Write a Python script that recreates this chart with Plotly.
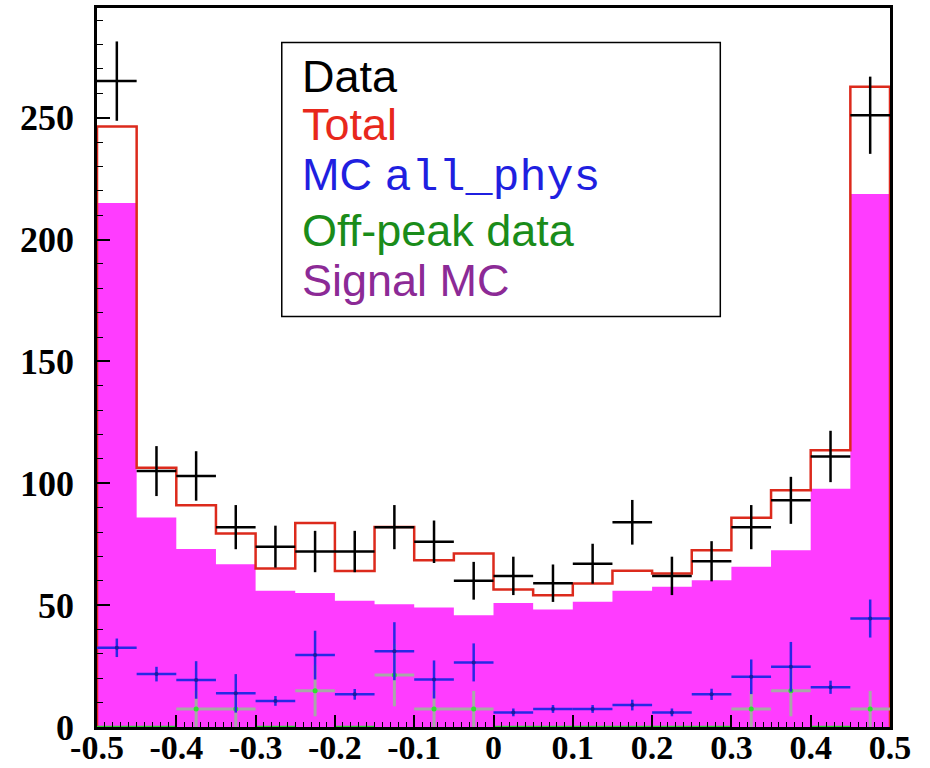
import plotly.graph_objects as go

# Bin layout (20 bins of width 0.05 between -0.5 and 0.5)
bin_centers = [-0.475, -0.425, -0.375, -0.325, -0.275, -0.225, -0.175, -0.125, -0.075, -0.025,
               0.025, 0.075, 0.125, 0.175, 0.225, 0.275, 0.325, 0.375, 0.425, 0.475]
bin_half_width = 0.025

# Observed data (counts, Poisson errors)
data_counts = [265, 105, 103, 82, 74, 72, 72, 82, 76, 60,
               62, 59, 67, 84, 62, 68, 82, 93, 111, 251]

# Total prediction
total_pred = [246.4, 106.4, 91.0, 79.4, 65.0, 83.7, 64.0, 82.1, 68.4, 71.2,
              56.4, 54.1, 58.9, 64.1, 63.0, 72.5, 85.9, 97.1, 113.5, 262.7]

# Signal MC (filled histogram)
signal_mc = [215.0, 86.0, 73.0, 66.8, 55.9, 55.0, 51.8, 50.4, 49.0, 45.9,
             50.9, 48.2, 51.4, 55.9, 57.5, 60.2, 65.7, 72.5, 97.8, 218.7]

# Generic MC background
mc_all_phys = [32.5, 21.7, 19.3, 13.8, 10.7, 29.5, 13.4, 31.1, 19.5, 26.5,
               6.0, 7.4, 7.4, 9.0, 6.0, 13.4, 20.6, 24.7, 16.3, 44.5]
mc_all_phys_err = [3.8, 3.0, 7.7, 7.9, 2.0, 10.0, 2.2, 11.9, 7.8, 7.8,
                   1.6, 1.6, 1.6, 2.2, 1.6, 2.3, 7.1, 10.2, 2.7, 7.8]

# Scaled off-peak data
offpeak = [0, 0, 7.4, 7.4, 0, 14.9, 0, 21.3, 7.4, 7.4,
           0, 0, 0, 0, 0, 0, 7.4, 14.9, 0, 7.4]
offpeak_err = [0, 0, 7.4, 7.4, 0, 10.5, 0, 12.8, 7.4, 7.4,
               0, 0, 0, 0, 0, 0, 7.4, 10.5, 0, 7.4]

x_tick_vals = [-0.5, -0.4, -0.3, -0.2, -0.1, 0.0, 0.1, 0.2, 0.3, 0.4, 0.5]
x_tick_text = ["-0.5", "-0.4", "-0.3", "-0.2", "-0.1", "0", "0.1", "0.2", "0.3", "0.4", "0.5"]
y_tick_vals = [0, 50, 100, 150, 200, 250]
y_tick_text = ["0", "50", "100", "150", "200", "250"]

legend_entries = [
    ("Data", "#000000"),
    ("Total", "#e8281c"),
    ("MC <span style='font-family:Liberation Mono, Courier New, monospace'>all_phys</span>", "#1f1fe0"),
    ("Off-peak data", "#1a8c1a"),
    ("Signal MC", "#8c2a96"),
]

# Bin edges for step outlines
edges = [c - bin_half_width for c in bin_centers] + [bin_centers[-1] + bin_half_width]


def closed_step(values):
    xs = [edges[0]] + edges + [edges[-1]]
    ys = [0] + list(values) + [values[-1], 0]
    return xs, ys


fig = go.Figure()

sx, sy = closed_step(signal_mc)
fig.add_trace(go.Scatter(x=sx, y=sy, mode="lines", line=dict(shape="hv", width=0, color="#ff3cff"),
                         fill="toself", fillcolor="#ff3cff", hoverinfo="skip"))

tx, ty = closed_step(total_pred)
fig.add_trace(go.Scatter(x=tx, y=ty, mode="lines", line=dict(shape="hv", width=2.5, color="#dc2a1c"),
                         hoverinfo="skip"))

fig.add_trace(go.Scatter(
    x=bin_centers, y=data_counts, mode="markers",
    marker=dict(size=1, color="black"),
    error_y=dict(type="data", array=[n ** 0.5 for n in data_counts], color="black", thickness=2.5, width=0),
    error_x=dict(type="constant", value=bin_half_width, color="black", thickness=2.5, width=0),
))

# Off-peak: empty bins shown as a green line on the axis, filled bins as grey crosses
zero_x = [c for c, v in zip(bin_centers, offpeak) if v == 0]
fig.add_trace(go.Scatter(
    x=zero_x, y=[0] * len(zero_x), mode="markers", marker=dict(size=1, color="#30d030"),
    error_x=dict(type="constant", value=bin_half_width, color="#30d030", thickness=2.5, width=0),
))
nz = [(c, v, e) for c, v, e in zip(bin_centers, offpeak, offpeak_err) if v > 0]
fig.add_trace(go.Scatter(
    x=[p[0] for p in nz], y=[p[1] for p in nz], mode="markers",
    marker=dict(size=5, color="#30e030"),
    error_y=dict(type="data", array=[p[2] for p in nz], color="#a8a8a8", thickness=3, width=0),
    error_x=dict(type="constant", value=bin_half_width, color="#a8a8a8", thickness=3, width=0),
))

fig.add_trace(go.Scatter(
    x=bin_centers, y=mc_all_phys, mode="markers",
    marker=dict(size=4, color="#1a1aa0"),
    error_y=dict(type="data", array=mc_all_phys_err, color="#2828e6", thickness=2.5, width=0),
    error_x=dict(type="constant", value=bin_half_width, color="#2828e6", thickness=2.5, width=0),
))

# Legend box drawn as a framed text block
fig.add_shape(type="rect", xref="paper", yref="paper",
              x0=0.233, x1=0.786, y0=0.571, y1=0.952,
              line=dict(color="black", width=1.5), fillcolor="white", layer="above")

legend_y_px = [76.7, 125.0, 176.7, 230.0, 280.0]
for (label, color), ypx in zip(legend_entries, legend_y_px):
    fig.add_annotation(
        xref="paper", yref="paper", x=0.256, y=(727 - ypx) / 719,
        xanchor="left", yanchor="middle", showarrow=False,
        text=label, font=dict(family="Liberation Sans, Arial, sans-serif", size=45, color=color),
    )

x_tick_font = dict(family="Liberation Serif, Times New Roman, serif", size=34, color="black", weight="bold")
y_tick_font = dict(family="Liberation Serif, Times New Roman, serif", size=36, color="black", weight="bold")

fig.update_layout(
    width=930, height=768,
    margin=dict(l=97, r=40, t=8, b=41),
    paper_bgcolor="white", plot_bgcolor="white",
    showlegend=False,
    xaxis=dict(
        range=[-0.5, 0.5], tickvals=x_tick_vals, ticktext=x_tick_text,
        ticks="inside", ticklen=12, tickwidth=1.5, tickcolor="black",
        minor=dict(dtick=0.01, ticks="inside", ticklen=5, tickwidth=1, tickcolor="black"),
        showline=True, linecolor="black", linewidth=2.5, mirror=True,
        showgrid=False, zeroline=False, tickfont=x_tick_font, automargin=False,
        ticklabelstandoff=-12,
    ),
    yaxis=dict(
        range=[0, 295], tickvals=y_tick_vals, ticktext=y_tick_text,
        ticks="inside", ticklen=13, tickwidth=1.5, tickcolor="black",
        minor=dict(dtick=10, ticks="inside", ticklen=6, tickwidth=1, tickcolor="black"),
        showline=True, linecolor="black", linewidth=2.5, mirror=True,
        showgrid=False, zeroline=False, tickfont=y_tick_font, automargin=False,
        ticklabelstandoff=13,
    ),
)

fig.write_html("out.html")
